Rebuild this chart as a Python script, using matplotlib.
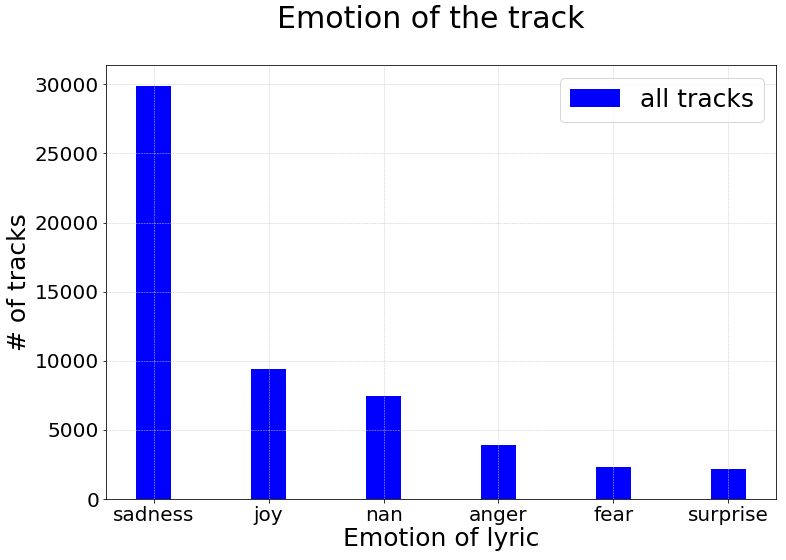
import matplotlib
matplotlib.use("Agg")
import matplotlib.pyplot as plt
import numpy as np

categories = ["sadness", "joy", "nan", "anger", "fear", "surprise"]
counts = [29880, 9380, 7440, 3900, 2310, 2170]

fig = plt.figure(figsize=(786/72, 560/72), dpi=72)
ax = fig.add_axes([0.1349, 0.1089, 0.8524, 0.775])
x = np.arange(len(categories))
ax.bar(x, counts, width=0.3, color="blue", label="all tracks", zorder=2)
ax.set_xticks(x)
ax.set_xticklabels(categories, fontsize=20)
ax.tick_params(axis="y", labelsize=20)
ax.set_yticks(np.arange(0, 30001, 5000))
ax.set_ylim(0, 31400)
ax.grid(True, linestyle="--", linewidth=0.5, color="#c8c8c8", zorder=0)
ax.set_axisbelow(False)
ax.set_xlabel("Emotion of lyric", fontsize=25, labelpad=2)
ax.set_ylabel("# of tracks", fontsize=25)
fig.text(431/786, 1 - 20/560, "Emotion of the track", fontsize=30,
         ha="center", va="center")
ax.legend(loc="upper right", fontsize=25)
fig.savefig("out.png", dpi=72)
